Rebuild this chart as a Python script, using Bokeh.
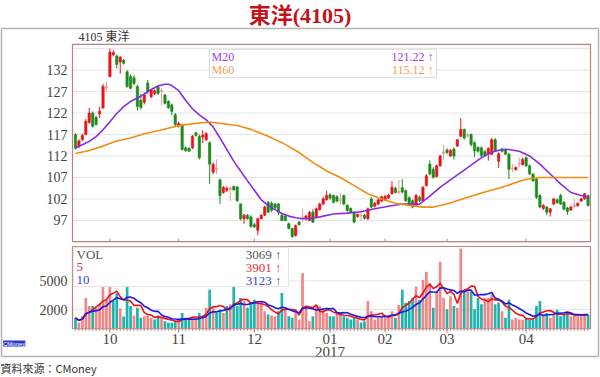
import pandas as pd
from bokeh.plotting import figure
from bokeh.models import Range1d, Label, BoxAnnotation, Title
from bokeh.core.properties import value
from bokeh.embed import file_html
from bokeh.resources import INLINE

# ---------------- data ----------------
open_ = [117.0,114.3,115.8,117.0,119.8,122.0,121.0,121.8,123.2,127.8,
         130.5,135.6,135.3,133.9,134.3,131.6,130.5,130.2,128.2,125.0,
         124.5,129.0,125.8,126.5,128.0,127.3,126.2,124.7,123.9,121.6,
         119.0,119.3,113.9,113.8,113.9,117.4,116.6,116.4,115.8,115.1,
         108.2,108.9,106.4,103.5,104.0,104.2,104.9,104.8,100.8,97.4,
         98.2,97.8,96.0,94.7,97.4,98.2,101.2,101.0,100.8,100.8,
         98.2,98.0,96.2,95.1,93.5,96.6,97.4,97.4,97.0,98.9,
         97.8,99.5,100.8,101.8,103.0,102.8,102.5,101.6,102.8,100.5,
         99.8,98.9,97.9,98.0,98.2,97.4,102.0,100.3,100.8,101.5,
         101.8,102.2,103.2,104.5,103.5,104.6,103.9,102.3,101.6,100.5,
         102.4,101.6,105.1,110.1,108.9,107.2,109.7,112.6,113.4,112.0,
         113.6,114.3,116.6,118.2,116.6,117.0,115.1,114.0,113.9,113.0,
         112.4,112.4,115.8,110.8,113.6,113.5,112.4,109.0,108.8,110.0,
         110.0,111.6,109.7,107.8,106.6,102.8,99.8,100.1,98.9,100.8,
         101.8,102.8,101.2,99.9,99.4,100.2,100.4,101.5,102.0,102.8]
high = [117.3,115.9,117.2,120.6,123.2,122.4,121.4,123.5,128.8,129.4,
        137.0,136.6,135.6,135.3,134.6,132.0,131.0,130.8,128.6,126.5,
        126.8,129.7,127.6,127.5,128.6,127.8,126.5,125.0,124.2,122.0,
        120.0,119.5,114.2,114.0,116.9,117.6,117.0,118.0,117.6,115.4,
        110.5,111.2,106.8,105.0,104.9,104.9,105.1,105.0,101.0,98.5,
        98.5,98.2,96.4,97.6,98.4,100.4,101.5,101.4,101.0,101.0,
        98.6,98.3,96.5,95.3,96.0,96.9,99.7,98.3,99.2,99.6,
        100.0,101.2,102.5,103.9,103.3,103.0,102.9,103.4,103.0,100.8,
        100.0,99.2,98.6,99.6,98.5,100.0,102.4,101.3,102.0,102.8,
        103.0,103.2,106.2,104.8,106.4,106.6,104.2,102.6,101.9,103.2,
        102.7,105.0,107.8,111.0,109.4,110.0,112.3,114.6,113.8,113.6,
        114.0,115.9,120.8,118.4,117.4,117.2,115.4,114.3,114.2,113.4,
        114.0,116.2,116.2,112.8,113.9,113.8,112.7,110.2,109.6,111.6,
        111.6,111.9,110.0,108.0,106.9,103.1,100.8,100.4,99.9,102.3,
        102.1,103.2,101.5,100.2,100.4,102.0,101.2,102.3,103.4,103.0]
low = [113.5,113.8,115.5,116.8,119.5,118.6,119.0,120.8,123.0,126.9,
       130.3,135.2,132.4,131.2,133.3,127.9,127.5,128.5,122.6,122.8,
       124.0,126.5,125.5,126.2,126.2,123.8,124.0,123.0,121.5,119.0,
       118.6,113.3,113.0,112.9,113.6,116.5,111.2,115.0,115.5,105.5,
       107.8,107.8,100.8,103.2,103.6,101.5,104.0,101.3,97.0,96.2,
       97.2,95.3,95.2,93.5,97.2,98.0,98.7,99.0,99.6,98.2,
       96.8,96.8,94.9,93.0,93.2,95.8,96.6,97.0,96.8,96.4,
       97.6,99.3,100.5,101.6,101.8,100.9,101.2,100.6,100.5,99.0,
       98.7,96.3,97.6,96.8,97.2,97.1,99.8,100.0,100.5,101.2,
       101.5,102.0,103.0,103.2,103.0,103.3,101.3,100.5,99.8,100.2,
       101.3,101.4,104.9,107.5,106.8,107.0,109.5,111.0,112.4,111.8,
       111.2,114.1,116.4,115.8,116.3,114.2,111.7,112.8,111.8,111.9,
       110.9,112.2,113.0,109.2,112.8,112.2,106.6,108.2,108.6,109.4,
       109.8,109.4,107.6,106.0,102.0,99.8,99.4,98.2,97.9,100.5,
       100.9,100.6,99.4,98.3,99.2,99.8,100.2,101.3,101.8,100.2]
close = [113.8,115.5,116.8,120.1,122.0,118.9,119.4,122.4,128.2,128.2,
         136.2,136.1,133.3,135.0,133.6,128.2,127.8,128.9,123.5,123.3,
         126.2,127.0,127.4,127.2,126.6,127.0,124.3,123.2,122.4,119.3,
         119.6,113.5,113.2,113.1,116.6,116.8,111.6,116.9,117.2,110.1,
         110.1,109.2,102.8,104.7,104.5,104.6,104.1,101.6,97.4,98.2,
         97.4,95.6,95.5,97.4,98.2,100.1,98.9,99.3,100.0,98.9,
         97.0,97.0,95.1,93.2,95.8,96.0,97.8,98.0,98.9,96.6,
         99.7,100.8,102.0,102.8,102.2,101.2,101.5,101.8,100.8,99.3,
         99.0,96.6,98.4,98.2,97.5,99.7,100.1,101.0,101.8,102.5,
         102.6,102.9,104.7,103.5,103.8,103.6,101.6,100.8,100.1,102.8,
         101.6,104.7,107.4,107.8,107.0,109.7,112.0,113.0,112.8,113.3,
         112.0,115.8,118.2,116.2,117.0,114.7,113.2,113.1,112.1,112.2,
         113.8,115.8,113.3,112.5,113.1,112.4,108.9,109.1,109.3,110.3,
         111.2,109.7,107.8,106.2,102.4,100.1,100.5,98.9,99.7,102.0,
         101.1,100.8,99.6,99.1,100.1,100.6,101.0,102.0,103.2,100.5]
volume = [1140,620,1300,3200,2380,2380,2200,2550,5000,3030,
          5000,2900,3700,2140,1280,5000,2380,1380,2200,1140,
          1310,1380,1140,970,1380,1140,790,620,620,790,
          970,1650,1140,970,1240,1140,1650,1380,2200,4070,
          2200,1650,2000,1650,2380,2550,4400,2380,3200,2900,
          2200,2550,3030,2550,2720,1820,1480,1380,1310,1820,
          3720,1990,1310,1140,1650,970,5790,2200,790,1310,
          2380,2380,2030,1650,1310,1310,1650,1480,1310,1140,
          970,1140,970,660,790,2900,1820,970,1140,1310,
          1310,1310,1820,1140,2510,4070,2720,2900,3200,4410,
          3000,5100,5960,4760,2200,3900,7000,3200,2030,3380,
          2370,2200,8380,3900,3900,3900,2030,3200,2550,3200,
          3200,3550,2550,2720,1820,1140,3030,970,1140,970,
          970,1140,970,970,2370,2900,1480,1650,1140,1480,
          1990,1310,1480,1650,1310,1380,1380,1480,1480,1480]

m20_idx = [0,2,4,6,8,10,12,14,16,18,20,22,24,26,27,28,30,32,34,36,38,40,42,44,46,48,50,
           52,54,56,58,60,62,64,66,68,70,72,75,79,83,87,91,95,100,102,106,110,114,118,
           121,124,126,129,132,135,138,141,144,147,149]
m20_val = [113.9,114.6,115.4,116.5,118.1,120.0,121.9,123.5,124.7,125.5,126.4,127.5,128.3,
           128.7,128.7,128.4,127.2,125.0,123.0,121.6,120.4,118.8,116.2,113.5,110.8,108.5,
           106.2,104.0,101.8,100.5,99.5,98.6,98.0,97.6,97.4,97.4,97.6,98.0,98.5,98.7,99.0,
           99.7,100.3,100.8,100.8,102.0,104.7,107.0,109.3,111.6,112.9,113.5,113.5,113.1,
           112.0,110.1,107.8,105.5,103.5,102.8,102.4]
m60_idx = [0,4,8,12,16,20,24,28,32,36,39,43,47,51,56,61,65,69,73,77,81,85,89,93,97,101,
           104,108,114,119,124,128,131,135,141,149]
m60_val = [112.6,113.3,114.3,115.5,116.2,117.2,117.9,118.7,119.3,119.7,119.9,119.5,119.1,
           118.2,116.6,114.7,112.8,110.5,108.5,107.0,105.1,103.2,102.0,101.0,100.5,100.1,
           100.1,100.8,102.4,103.6,104.7,105.8,106.6,107.0,107.0,107.0]

month_idx = [10, 30, 52, 74, 90, 108, 131]
month_labels = ["10", "11", "12", "01", "02", "03", "04"]
year_idx = [74]
year_labels = ["2017"]
price_ticks = [97, 102, 107, 112, 117, 122, 127, 132]
price_grid = [97, 102, 107, 112, 117, 122, 127, 132, 137]
vol_ticks = [2000, 5000]
vol_tick_labels = ["2000", "5000"]

# ---------------- layout (pixel geometry of the page) ----------------
W, H = 600, 377
FL, FT, FR, FB = 1, 28, 598, 359          # outer framed box
PX0, PXI = 75.0, 3.44                      # pixel of candle 0, px per candle
PY132, PPU = 70.0, 4.333                   # pixel of price 132, px per price unit
VY0, VPX = 331.0, 103.4                    # pixel of volume 0, volume per px

def X(px):
    return (px - PX0) / PXI

def Y(py):
    return 132 - (py - PY132) / PPU

def vp(v):
    return Y(VY0 - v / VPX)

RED, GREEN, PINK = "#e8141a", "#1c8a1c", "#eb9a9a"
VPINK, VTEAL = "#f28686", "#1cb4ac"
PURPLE, ORANGE = "#8a2be2", "#f08c10"
BORDER = "#b98282"
SERIF = "Liberation Serif"

df = pd.DataFrame(dict(o=open_, h=high, l=low, c=close, v=volume))
df["i"] = range(len(df))
df["top"] = df[["o", "c"]].max(axis=1)
df["bot"] = df[["o", "c"]].min(axis=1)
df["col"] = [PINK if abs(c - o) < 0.45 else (RED if c > o else GREEN)
             for o, c in zip(df.o, df.c)]
prev = df.c.shift(1).fillna(df.o)
df["vcol"] = [VPINK if c >= pc else VTEAL for c, pc in zip(df.c, prev)]
df["ma5"] = df.v.rolling(5, min_periods=1).mean()
df["ma10"] = df.v.rolling(10, min_periods=1).mean()
N = len(df)

p = figure(width=W, height=H, output_backend="svg", toolbar_location=None,
           x_range=Range1d(X(FL), X(FR)), y_range=Range1d(Y(FB), Y(FT)),
           x_axis_location=None, y_axis_location=None,
           min_border_left=FL, min_border_right=W - FR, min_border_top=FT,
           min_border_bottom=H - FB,
           outline_line_color="#b4b4b4", outline_line_width=1.5,
           background_fill_color="white", border_fill_color="white")
p.grid.visible = False

p.title = Title(text="東洋(4105)", align="center", text_font_size="22px",
                text_color="#c4121c", text_font="Liberation Serif, Noto Sans CJK TC",
                text_font_style="bold", standoff=1)
p.add_layout(Title(text="資料來源：CMoney", align="left", text_font_size="11px",
                   text_color="#333333", text_font="Noto Sans CJK TC",
                   text_font_style="normal", standoff=3, offset=-1), "below")

XL, XR = X(72), X(590)
PT, PB = Y(44), Y(243)
VT, VB = Y(248), Y(VY0)

# grid lines
p.segment(x0=[XL] * len(price_grid), x1=[XR] * len(price_grid), y0=price_grid,
          y1=price_grid, line_color="#e4e4e4", line_width=1, level="underlay")
p.segment(x0=[XL] * len(vol_ticks), x1=[XR] * len(vol_ticks),
          y0=[vp(v) for v in vol_ticks], y1=[vp(v) for v in vol_ticks],
          line_color="#e4e4e4", line_width=1, level="underlay")

# tick labels (y)
p.text(x=[X(67)] * len(price_ticks), y=price_ticks, text=[str(t) for t in price_ticks],
       text_align="right", text_baseline="middle", text_font=value(SERIF),
       text_font_size="14px", text_color="#444444")
p.text(x=[X(67)] * len(vol_ticks), y=[vp(v) for v in vol_ticks], text=vol_tick_labels,
       text_align="right", text_baseline="middle", text_font=value(SERIF),
       text_font_size="14px", text_color="#444444")
# tick labels (x)
p.text(x=month_idx, y=[Y(341)] * len(month_idx), text=month_labels,
       text_align="center", text_baseline="middle", text_font=value(SERIF),
       text_font_size="15px", text_color="#444444")
p.text(x=year_idx, y=[Y(354)], text=year_labels,
       text_align="center", text_baseline="middle", text_font=value(SERIF),
       text_font_size="15px", text_color="#444444")
# x ticks
p.segment(x0=list(df.i), x1=list(df.i), y0=[VB] * N, y1=[Y(VY0 + 2)] * N,
          line_color=BORDER, line_width=1)
p.segment(x0=month_idx, x1=month_idx, y0=[VB] * len(month_idx),
          y1=[Y(VY0 + 4)] * len(month_idx), line_color=BORDER, line_width=1)
p.segment(x0=month_idx, x1=month_idx, y0=[PB] * len(month_idx),
          y1=[Y(240)] * len(month_idx), line_color=BORDER, line_width=1)

# volume
p.vbar(x=list(df.i), width=0.78, top=[vp(v) for v in df.v], bottom=VB,
       fill_color=list(df.vcol), line_color=None)
p.line(list(df.i), [vp(v) for v in df.ma5], line_color=RED, line_width=1.6)
p.line(list(df.i), [vp(v) for v in df.ma10], line_color="#1a1ae0", line_width=1.6)

# candles
p.segment(x0=list(df.i), y0=list(df.l), x1=list(df.i), y1=list(df.h),
          line_color=list(df.col), line_width=1)
p.vbar(x=list(df.i), width=0.68, top=list(df.top), bottom=list(df.bot),
       fill_color=list(df.col), line_color=list(df.col), line_width=0.6)

# moving averages
p.line(m20_idx, m20_val, line_color=PURPLE, line_width=1.6)
p.line(m60_idx, m60_val, line_color=ORANGE, line_width=1.6)

# panel boxes
p.add_layout(BoxAnnotation(left=XL, right=XR, top=PT, bottom=PB, fill_alpha=0,
                           line_color=BORDER, line_width=1.2, line_alpha=1))
p.add_layout(BoxAnnotation(left=XL, right=XR, top=VT, bottom=VB, fill_alpha=0,
                           line_color=BORDER, line_width=1.2, line_alpha=1))

# legend boxes
p.add_layout(BoxAnnotation(left=X(209), right=X(436), top=Y(49), bottom=Y(77.5),
                           fill_color="white", fill_alpha=1, line_color="#dcdcdc",
                           line_width=1, line_alpha=1))
p.add_layout(BoxAnnotation(left=X(72.8), right=X(288), top=Y(248.8), bottom=Y(288.5),
                           fill_color="white", fill_alpha=1, line_color="#e2e2e2",
                           line_width=1, line_alpha=1))

def lab(px, py, text, color="#333333", size="12px", align="left", font=SERIF):
    p.add_layout(Label(x=X(px), y=Y(py), text=text, text_color=color,
                       text_font_size=size, text_align=align, text_baseline="middle",
                       text_font=font))

lab(78, 37, "4105  東洋", color="#333333", size="12px",
    font="Liberation Serif, Noto Sans CJK TC")
lab(211, 57, "M20", color="#9a3ee6", size="12px")
lab(211, 70, "M60", color="#f0a050", size="12px")
lab(433, 57, "121.22 ↑", color="#9a3ee6", size="12px", align="right")
lab(433, 70, "115.12 ↑", color="#f0a050", size="12px", align="right")
lab(76, 256, "VOL", color="#555555", size="13px")
lab(76, 269, "5", color="#e83030", size="13px")
lab(76, 282, "10", color="#4040d0", size="13px")
lab(281, 256, "3069 ↑", color="#555555", size="13px", align="right")
lab(281, 269, "3901 ↑", color="#e83030", size="13px", align="right")
lab(281, 282, "3123 ↑", color="#4040d0", size="13px", align="right")
p.add_layout(Label(x=X(2.5), y=Y(346), text="CMoney", text_color="white",
                   text_font_size="6px", text_align="left", text_baseline="middle",
                   text_font="Liberation Sans", background_fill_color="#2b3bd0",
                   background_fill_alpha=1))

open("out.html", "w").write(file_html(p, INLINE))
